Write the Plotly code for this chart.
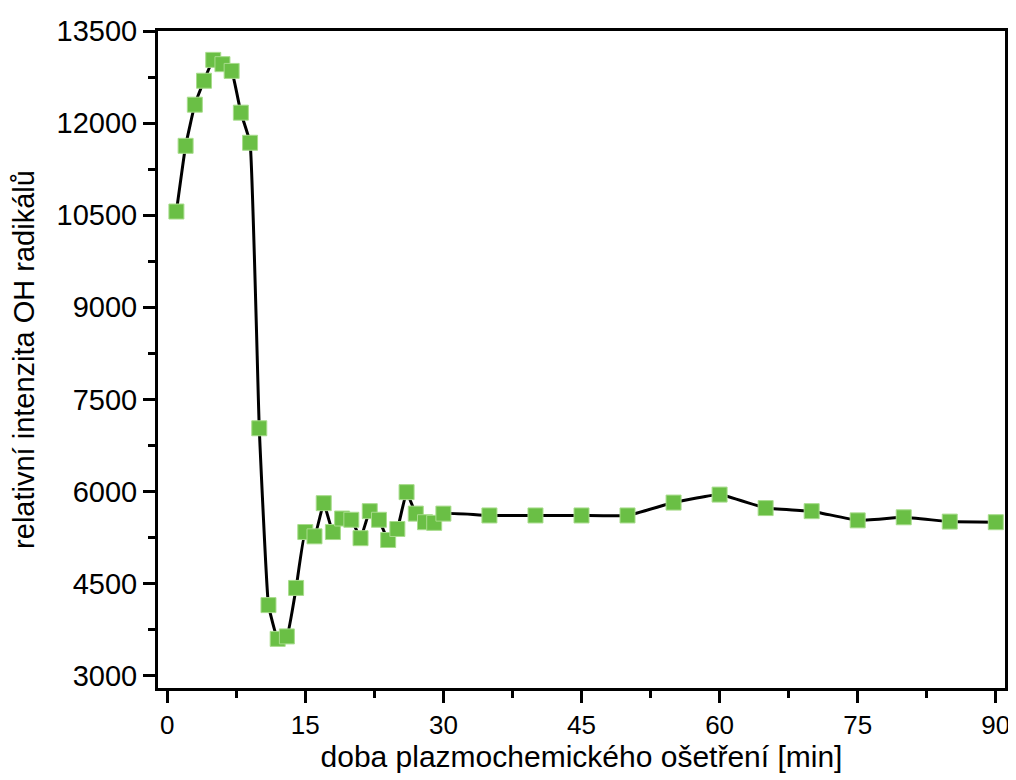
import plotly.graph_objects as go

time_min = [1, 2, 3, 4, 5, 6, 7, 8, 9, 10, 11, 12, 13, 14, 15, 16, 17, 18, 19, 20,
            21, 22, 23, 24, 25, 26, 27, 28, 29, 30, 35, 40, 45, 50, 55, 60, 65, 70,
            75, 80, 85, 90]
oh_intensity = [10560, 11630, 12300, 12690, 13030, 12960, 12850, 12170, 11680, 7030,
                4150, 3600, 3640, 4430, 5340, 5270, 5810, 5340, 5560, 5540,
                5240, 5680, 5540, 5210, 5390, 5990, 5640, 5500, 5490, 5640,
                5610, 5610, 5610, 5610, 5820, 5950, 5730, 5680, 5530, 5580, 5510, 5500]

x_ticks = [0, 15, 30, 45, 60, 75, 90]
y_ticks = [3000, 4500, 6000, 7500, 9000, 10500, 12000, 13500]

fig = go.Figure()
fig.add_trace(go.Scatter(
    x=time_min, y=oh_intensity, mode="lines+markers",
    line=dict(color="black", width=3, shape="spline", smoothing=0.3),
    marker=dict(symbol="square", size=15, color="#6abf45",
                line=dict(color="#a8dc8c", width=1)),
    showlegend=False,
))

axis_common = dict(showline=True, linecolor="black", linewidth=3, mirror=True,
                   ticks="outside", tickwidth=3, ticklen=12, tickcolor="black",
                   showgrid=False, zeroline=False, automargin=False)

font_fam = "Liberation Sans, Arial, sans-serif"

# page body has an 8px default margin, so the figure is sized/offset to compensate
fig.update_layout(
    width=1008, height=772,
    paper_bgcolor="white", plot_bgcolor="white",
    margin=dict(l=150, r=11, t=23, b=92),
    xaxis=dict(range=[-1, 91], tickvals=x_ticks, ticktext=[str(v) for v in x_ticks],
               tickfont=dict(family=font_fam, size=26, color="black"),
               title=dict(text="doba plazmochemického ošetření [min]",
                          font=dict(family=font_fam, size=30, color="black"),
                          standoff=4),
               minor=dict(dtick=7.5, tick0=0, ticks="outside", ticklen=7, tickwidth=3, tickcolor="black"),
               **axis_common),
    yaxis=dict(range=[2800, 13500], tickvals=y_ticks, ticktext=[str(v) for v in y_ticks],
               tickfont=dict(family=font_fam, size=29, color="black"),
               title=dict(text="relativní intenzita OH radikálů",
                          font=dict(family=font_fam, size=29, color="black"),
                          standoff=16),
               minor=dict(dtick=750, tick0=3000, ticks="outside", ticklen=7, tickwidth=3, tickcolor="black"),
               **axis_common),
)

fig.write_html("out.html")
